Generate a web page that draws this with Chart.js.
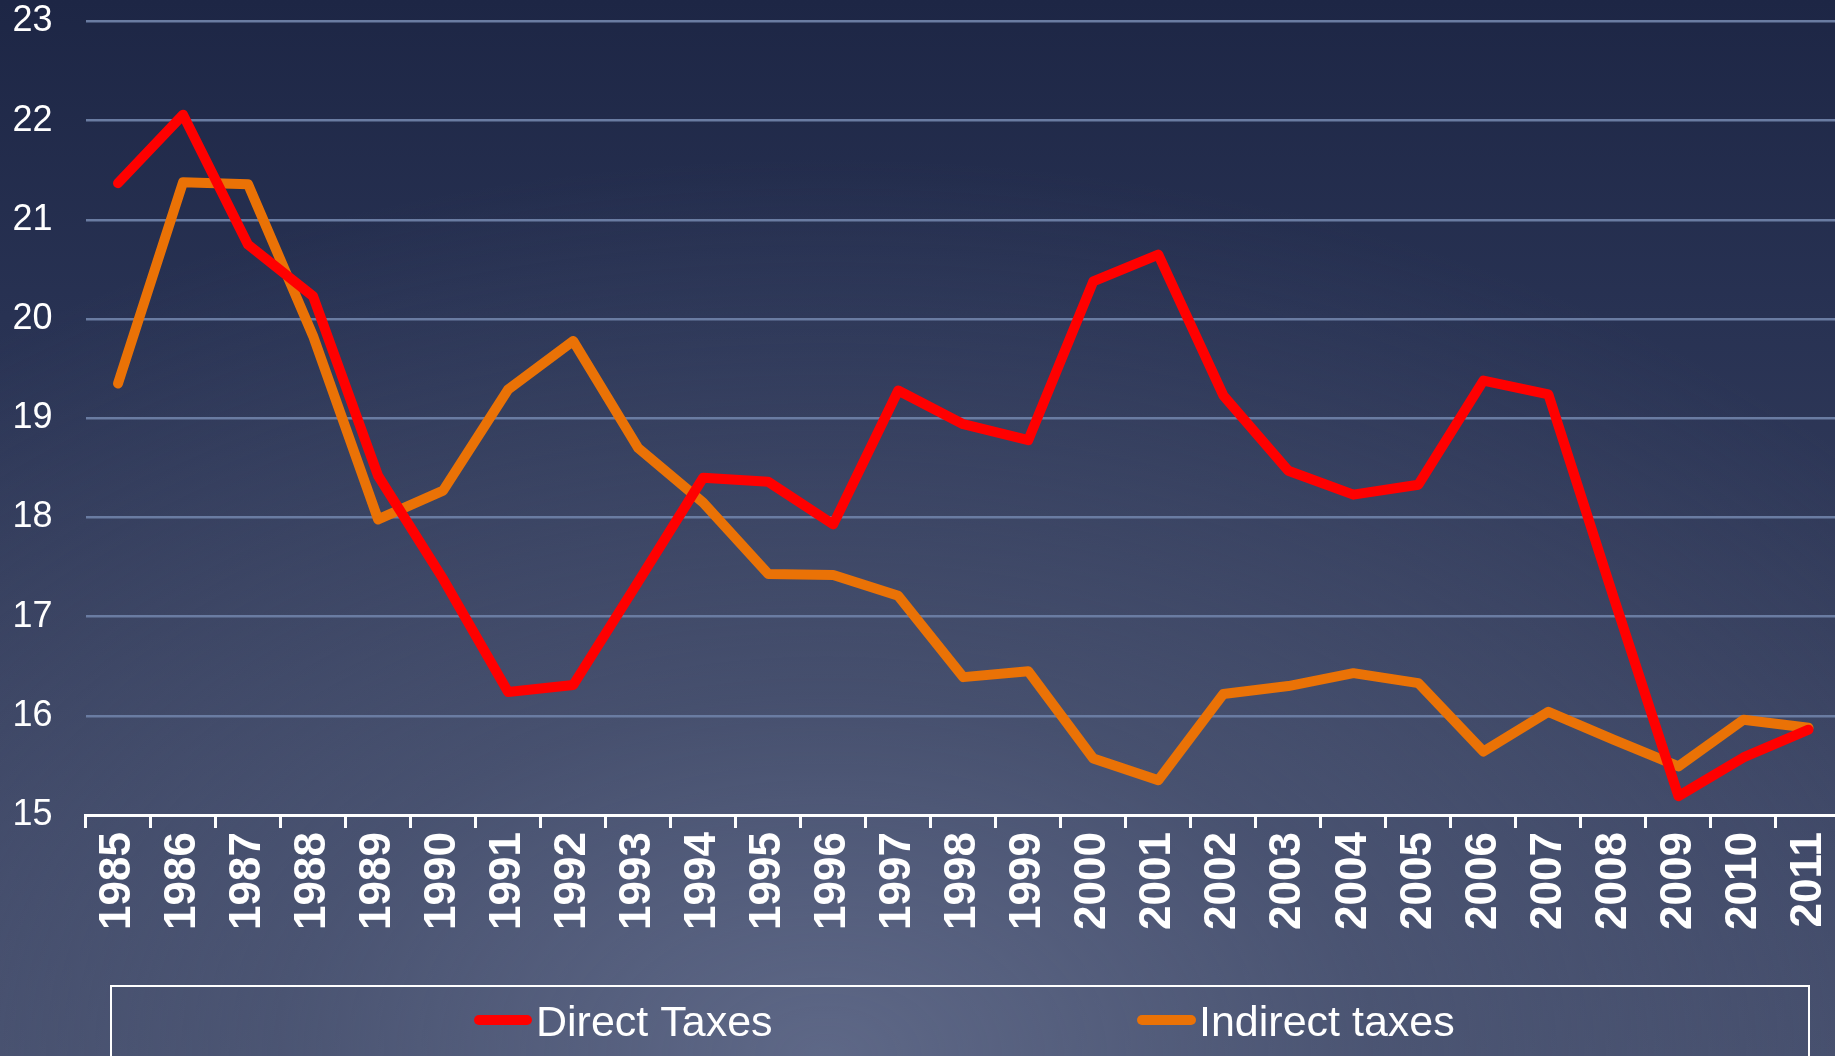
<!DOCTYPE html>
<html>
<head>
<meta charset="utf-8">
<script src="https://cdn.jsdelivr.net/npm/chart.js@4.4.1/dist/chart.umd.min.js"></script>
<style>
  html, body { margin: 0; padding: 0; width: 1835px; height: 1056px; overflow: hidden; }
  body {
    background:
      radial-gradient(ellipse 75% 85% at 45% 100%, rgba(95,105,136,0.95) 0%, rgba(80,90,120,0.6) 40%, rgba(60,70,100,0) 100%),
      linear-gradient(to bottom, #1d2645 0%, #283253 30%, #343d5c 60%, #3f4867 85%, #444d6b 100%);
  }
  #wrap { position: absolute; left: 0; top: 0; width: 1841px; height: 1056px; }
</style>
</head>
<body>
<div id="wrap"><canvas id="c" width="1841" height="1056"></canvas></div>
<script>
const years = ['1985','1986','1987','1988','1989','1990','1991','1992','1993','1994','1995','1996','1997','1998','1999','2000','2001','2002','2003','2004','2005','2006','2007','2008','2009','2010','2011'];
const directTaxes = [21.37, 22.06, 20.75, 20.23, 18.42, 17.38, 16.24, 16.31, 17.35, 18.40, 18.36, 17.93, 19.28, 18.94, 18.78, 20.38, 20.65, 19.23, 18.47, 18.23, 18.33, 19.38, 19.24, 17.20, 15.19, 15.58, 15.86];
const indirectTaxes = [19.35, 21.38, 21.36, 19.83, 17.98, 18.27, 19.29, 19.78, 18.70, 18.15, 17.43, 17.42, 17.21, 16.39, 16.45, 15.57, 15.35, 16.22, 16.30, 16.43, 16.33, 15.64, 16.04, 15.76, 15.49, 15.96, 15.88];
const yTicks = [15, 16, 17, 18, 19, 20, 21, 22, 23];
const seriesNames = ['Direct Taxes', 'Indirect taxes'];
const seriesColors = ['#ff0000', '#ea7206'];

const FONT = '"Liberation Sans", Arial, sans-serif';

const legendBox = {
  id: 'legendBox',
  afterDraw(chart) {
    const ctx = chart.ctx;
    ctx.save();
    ctx.strokeStyle = '#ffffff';
    ctx.lineWidth = 2;
    ctx.strokeRect(111, 986, 1698, 120);
    const items = [
      { x0: 474, x1: 532, tx: 536 },
      { x0: 1137, x1: 1196, tx: 1199 }
    ];
    chart.data.datasets.forEach((ds, i) => {
      const it = items[i];
      ctx.beginPath();
      ctx.strokeStyle = ds.borderColor;
      ctx.lineWidth = 10;
      ctx.lineCap = 'round';
      ctx.moveTo(it.x0 + 5, 1020);
      ctx.lineTo(it.x1 - 5, 1020);
      ctx.stroke();
      ctx.fillStyle = '#ffffff';
      ctx.font = '43px ' + FONT;
      ctx.textBaseline = 'alphabetic';
      ctx.textAlign = 'left';
      ctx.fillText(ds.label, it.tx, 1036);
    });
    ctx.restore();
  }
};

new Chart(document.getElementById('c'), {
  type: 'line',
  data: {
    labels: years,
    datasets: [
      { label: seriesNames[0], data: directTaxes, borderColor: seriesColors[0], backgroundColor: seriesColors[0],
        borderWidth: 10, pointRadius: 0, tension: 0, borderCapStyle: 'round', borderJoinStyle: 'round' },
      { label: seriesNames[1], data: indirectTaxes, borderColor: seriesColors[1], backgroundColor: seriesColors[1],
        borderWidth: 10, pointRadius: 0, tension: 0, borderCapStyle: 'round', borderJoinStyle: 'round' }
    ]
  },
  options: {
    responsive: false,
    animation: false,
    layout: { padding: { top: 21.5, left: 0, right: 0, bottom: 0 } },
    plugins: { legend: { display: false }, tooltip: { enabled: false } },
    scales: {
      x: {
        type: 'category',
        offset: true,
        grid: { display: true, drawOnChartArea: false, drawTicks: true, tickLength: 13, color: '#ffffff', lineWidth: 3, offset: true },
        border: { display: true, color: '#ffffff', width: 3 },
        ticks: { color: '#ffffff', font: { family: FONT, size: 44, weight: 'bold' }, minRotation: 90, maxRotation: 90, padding: 4, autoSkip: false },
        afterFit(s) { s.height = 241; s.paddingLeft = 0; s.paddingRight = 0; s.paddingTop = 0; s.paddingBottom = 0; }
      },
      y: {
        min: 15, max: 23,
        afterBuildTicks(s) { s.ticks = yTicks.map(v => ({ value: v })); },
        grid: { color: (c) => c.tick && c.tick.value === 15 ? 'rgba(0,0,0,0)' : '#6a7ca2', lineWidth: 2.5, drawTicks: false },
        border: { display: false },
        ticks: { color: '#ffffff', font: { family: FONT, size: 36 }, padding: 33 },
        afterFit(s) { s.width = 85.5; s.paddingTop = 0; s.paddingBottom = 0; s.paddingLeft = 0; s.paddingRight = 0; }
      }
    }
  },
  plugins: [legendBox]
});
</script>
</body>
</html>
